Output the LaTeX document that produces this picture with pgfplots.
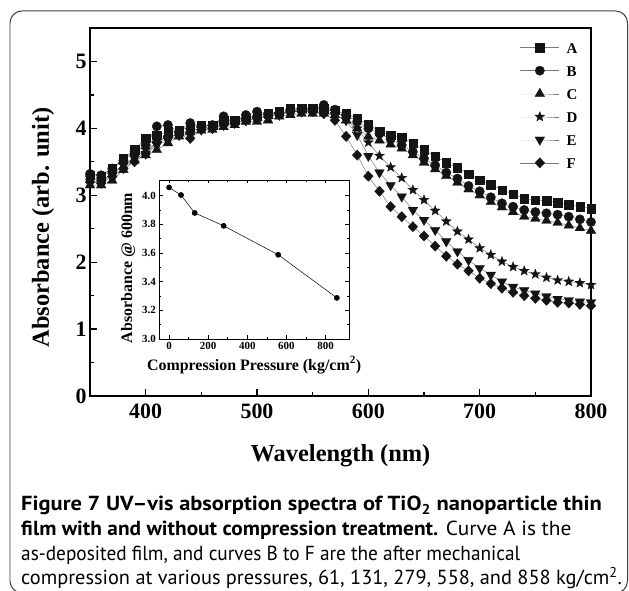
\documentclass[border=0pt]{standalone}
\usepackage{fontspec}
\setmainfont{Liberation Serif}
\newfontfamily\capfont{PT Sans}
\usepackage{pgfplots}
\pgfplotsset{compat=1.18}
\pgfdeclareplotmark{fstar}{%
  \pgfpathmoveto{\pgfpointpolar{90}{\pgfplotmarksize}}%
  \pgfpathlineto{\pgfpointpolar{126}{0.42\pgfplotmarksize}}%
  \pgfpathlineto{\pgfpointpolar{162}{\pgfplotmarksize}}%
  \pgfpathlineto{\pgfpointpolar{198}{0.42\pgfplotmarksize}}%
  \pgfpathlineto{\pgfpointpolar{234}{\pgfplotmarksize}}%
  \pgfpathlineto{\pgfpointpolar{270}{0.42\pgfplotmarksize}}%
  \pgfpathlineto{\pgfpointpolar{306}{\pgfplotmarksize}}%
  \pgfpathlineto{\pgfpointpolar{342}{0.42\pgfplotmarksize}}%
  \pgfpathlineto{\pgfpointpolar{18}{\pgfplotmarksize}}%
  \pgfpathlineto{\pgfpointpolar{54}{0.42\pgfplotmarksize}}%
  \pgfpathclose\pgfusepathqfillstroke}
\definecolor{mk}{RGB}{20,20,20}
\definecolor{ln}{RGB}{120,120,120}
\begin{document}
\begin{tikzpicture}[x=1bp,y=1bp]
\useasboundingbox (0,0) rectangle (629,591);
\draw[line width=1pt, black!75, rounded corners=12bp] (10,-2) rectangle (627.5,580);
\begin{axis}[
  at={(90bp,195bp)}, anchor=south west, scale only axis,
  width=501bp, height=368bp,
  xmin=350, xmax=800, ymin=0, ymax=5.5,
  xtick={400,500,...,800}, ytick={0,1,...,5},
  minor x tick num=1, minor y tick num=1,
  tick align=inside, tick pos=left,
  major tick length=7bp, minor tick length=4bp,
  axis line style={line width=1.5pt, black},
  every tick/.append style={line width=1.3pt, black},
  ticklabel style={font=\bfseries\fontsize{22}{22}\selectfont},
  /pgf/number format/assume math mode=true,
  xticklabel style={yshift=-4bp},
  xlabel={Wavelength (nm)},
  ylabel={Absorbance (arb. unit)},
  every axis x label/.style={at={(axis description cs:0.5,-0.163)}, anchor=center, font=\bfseries\fontsize{24.5}{24.5}\selectfont},
  every axis y label/.style={at={(axis description cs:-0.094,0.458)}, anchor=center, rotate=90, font=\bfseries\fontsize{24.5}{24.5}\selectfont},
  every axis plot/.append style={line width=0.5pt, color=ln},
  legend style={draw=none, fill=none, at={(axis description cs:0.858,0.962)}, anchor=north west,
    font=\bfseries\fontsize{15}{15}\selectfont, row sep=12bp, inner sep=0pt,
    nodes={inner sep=0pt, text height=11bp, text depth=0bp},
    /tikz/every odd column/.append style={column sep=7bp}},
  legend cell align=left,
  legend image code/.code={\draw[mark repeat=2,mark phase=2] plot coordinates {(0bp,0bp) (19.5bp,0bp) (39bp,0bp)};},
]
\addplot[mark=square*, mark size=4.2, mark options={draw=mk, fill=mk, line width=0.3pt}] coordinates {
(350,3.30)(360,3.28)(370,3.40)(380,3.55)(390,3.68)(400,3.85)(410,3.90)(420,3.95)(430,3.97)(440,4.02)
(450,4.05)(460,4.05)(470,4.12)(480,4.12)(490,4.15)(500,4.18)(510,4.22)(520,4.25)(530,4.30)(540,4.30)
(550,4.30)(560,4.30)(570,4.27)(580,4.22)(590,4.15)(600,4.055)(610,3.96)(620,3.90)(630,3.87)(640,3.78)
(650,3.68)(660,3.58)(670,3.49)(680,3.41)(690,3.32)(700,3.23)(710,3.16)(720,3.08)(730,3.02)(740,2.95)
(750,2.93)(760,2.92)(770,2.89)(780,2.86)(790,2.83)(800,2.80)};
\addlegendentry{A}
\addplot[mark=*, mark size=4.7, mark options={draw=mk, fill=mk, line width=0.3pt}] coordinates {
(350,3.32)(360,3.30)(370,3.40)(380,3.52)(390,3.65)(400,3.75)(410,4.03)(420,4.05)(430,3.95)(440,4.08)
(450,4.03)(460,4.05)(470,4.18)(480,4.10)(490,4.20)(500,4.25)(510,4.22)(520,4.22)(530,4.25)(540,4.28)
(550,4.28)(560,4.35)(570,4.28)(580,4.20)(590,4.10)(600,4.00)(610,3.92)(620,3.84)(630,3.75)(640,3.65)
(650,3.55)(660,3.45)(670,3.34)(680,3.25)(690,3.14)(700,3.06)(710,2.97)(720,2.88)(730,2.83)(740,2.78)
(750,2.75)(760,2.73)(770,2.71)(780,2.68)(790,2.64)(800,2.60)};
\addlegendentry{B}
\addplot[mark=triangle*, mark size=5.6, mark options={draw=mk, fill=mk, line width=0.3pt}] coordinates {
(350,3.15)(360,3.15)(370,3.22)(380,3.38)(390,3.52)(400,3.60)(410,3.68)(420,3.78)(430,3.88)(440,3.95)
(450,3.97)(460,3.98)(470,4.02)(480,4.05)(490,4.10)(500,4.10)(510,4.12)(520,4.18)(530,4.20)(540,4.22)
(550,4.22)(560,4.22)(570,4.20)(580,4.12)(590,4.00)(600,3.878)(610,3.82)(620,3.76)(630,3.70)(640,3.60)
(650,3.49)(660,3.39)(670,3.29)(680,3.19)(690,3.09)(700,3.00)(710,2.90)(720,2.82)(730,2.75)(740,2.68)
(750,2.65)(760,2.62)(770,2.59)(780,2.55)(790,2.51)(800,2.47)};
\addlegendentry{C}
\addplot[mark=fstar, mark size=5.2, mark options={draw=mk, fill=mk, line width=0.3pt}] coordinates {
(350,3.22)(360,3.20)(370,3.30)(380,3.45)(390,3.58)(400,3.68)(410,3.78)(420,3.85)(430,3.92)(440,3.97)
(450,4.00)(460,4.02)(470,4.08)(480,4.08)(490,4.12)(500,4.15)(510,4.18)(520,4.22)(530,4.25)(540,4.28)
(550,4.27)(560,4.28)(570,4.25)(580,4.17)(590,4.00)(600,3.79)(610,3.59)(620,3.42)(630,3.26)(640,3.08)
(650,2.93)(660,2.77)(670,2.61)(680,2.46)(690,2.34)(700,2.21)(710,2.11)(720,2.01)(730,1.93)(740,1.87)
(750,1.82)(760,1.77)(770,1.73)(780,1.71)(790,1.69)(800,1.66)};
\addlegendentry{D}
\addplot[mark=triangle*, mark size=5.6, mark options={draw=mk, fill=mk, line width=0.3pt, rotate=180}] coordinates {
(350,3.25)(360,3.22)(370,3.32)(380,3.45)(390,3.55)(400,3.62)(410,3.75)(420,3.82)(430,3.90)(440,3.90)
(450,3.98)(460,4.00)(470,4.05)(480,4.08)(490,4.12)(500,4.15)(510,4.18)(520,4.20)(530,4.25)(540,4.25)
(550,4.27)(560,4.25)(570,4.20)(580,4.12)(590,3.90)(600,3.587)(610,3.34)(620,3.15)(630,2.98)(640,2.78)
(650,2.63)(660,2.48)(670,2.31)(680,2.16)(690,2.03)(700,1.91)(710,1.81)(720,1.71)(730,1.63)(740,1.58)
(750,1.53)(760,1.49)(770,1.45)(780,1.43)(790,1.41)(800,1.40)};
\addlegendentry{E}
\addplot[mark=diamond*, mark size=5.2, mark options={draw=mk, fill=mk, line width=0.3pt, xscale=1.25}] coordinates {
(350,3.20)(360,3.18)(370,3.28)(380,3.40)(390,3.50)(400,3.62)(410,3.80)(420,3.88)(430,3.90)(440,3.85)
(450,3.98)(460,4.00)(470,4.05)(480,4.08)(490,4.12)(500,4.15)(510,4.18)(520,4.22)(530,4.25)(540,4.25)
(550,4.25)(560,4.22)(570,4.12)(580,3.88)(590,3.60)(600,3.285)(610,3.06)(620,2.83)(630,2.68)(640,2.53)
(650,2.39)(660,2.24)(670,2.09)(680,1.97)(690,1.87)(700,1.76)(710,1.68)(720,1.61)(730,1.55)(740,1.50)
(750,1.46)(760,1.43)(770,1.40)(780,1.39)(790,1.37)(800,1.35)};
\addlegendentry{F}
\end{axis}
\begin{axis}[
  at={(159.3bp,252bp)}, anchor=south west, scale only axis,
  width=189.7bp, height=159bp,
  xmin=-50, xmax=920, ymin=3.0, ymax=4.11,
  xtick={0,200,...,800}, ytick={3.0,3.2,...,4.0},
  minor x tick num=1, minor y tick num=1,
  tick align=inside,
  major tick length=3.5bp, minor tick length=2bp,
  axis line style={line width=0.8pt, black},
  every tick/.append style={line width=0.6pt, black},
  axis background/.style={fill=white},
  ticklabel style={font=\bfseries\fontsize{11}{11}\selectfont},
  /pgf/number format/assume math mode=true,
  yticklabel style={/pgf/number format/.cd, fixed, fixed zerofill, precision=1},
  xlabel={Compression Pressure (kg/cm\textsuperscript{2})},
  ylabel={Absorbance @ 600nm},
  every axis x label/.style={at={(axis description cs:0.5,-0.164)}, anchor=center, font=\bfseries\fontsize{16}{16}\selectfont},
  every axis y label/.style={at={(axis description cs:-0.165,0.447)}, anchor=center, rotate=90, font=\bfseries\fontsize{16}{16}\selectfont},
]
\addplot[black, line width=0.5pt, mark=*, mark size=2.6] coordinates {
(0,4.058)(61,4.005)(131,3.88)(279,3.79)(558,3.588)(858,3.287)};
\end{axis}
\begin{scope}[every node/.style={anchor=base west, inner sep=0pt, font=\capfont\fontsize{20.4}{20.4}\selectfont}]
\node at (21,80) {\scalebox{1.105}[1]{\textbf{Figure 7 UV\textendash vis absorption spectra of TiO\textsubscript{2} nanoparticle thin}}};
\node at (21,55) {\scalebox{1.05}[1]{\textbf{film with and without compression treatment.} Curve A is the}};
\node at (21,30.5) {\scalebox{0.95}[1]{as-deposited film, and curves B to F are the after mechanical}};
\node at (21,6.5) {compression at various pressures, 61, 131, 279, 558, and 858 kg/cm\textsuperscript{2}.};
\end{scope}
\end{tikzpicture}
\end{document}
